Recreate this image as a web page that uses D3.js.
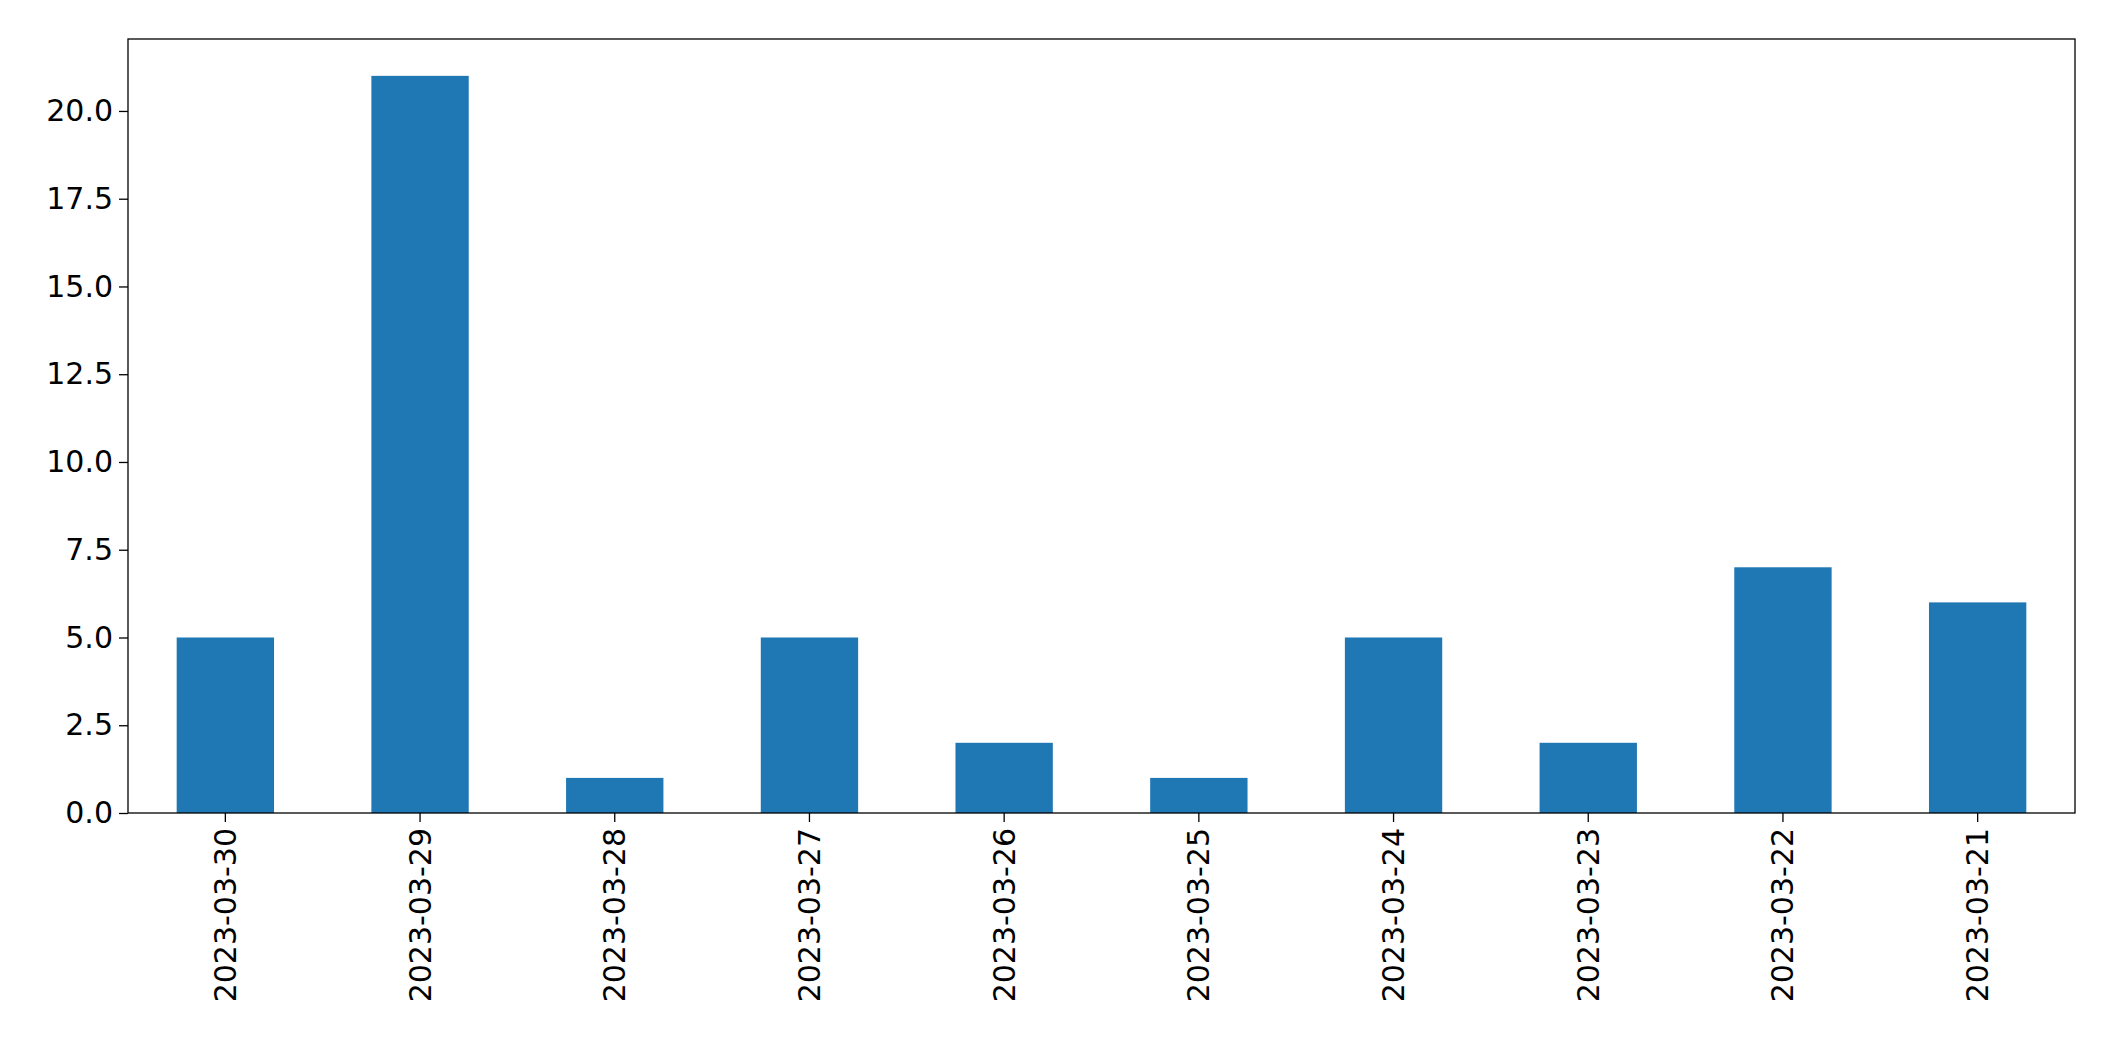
<html>
<head>
<style>
  body { margin: 0; background: #fff; }
  text { font-family: "DejaVu Sans", sans-serif; fill: #000; }
</style>
</head>
<body>
<script src="https://d3js.org/d3.v7.min.js"></script>
<script>
// chart values
var dates = ["2023-03-30","2023-03-29","2023-03-28","2023-03-27","2023-03-26",
             "2023-03-25","2023-03-24","2023-03-23","2023-03-22","2023-03-21"];
var counts = [5, 21, 1, 5, 2, 1, 5, 2, 7, 6];
var yTicks = [0, 2.5, 5, 7.5, 10, 12.5, 15, 17.5, 20];

var W = 2104, H = 1061;
var margin = {top: 39, right: 29, bottom: 248, left: 128};
var width = W - margin.left - margin.right;
var height = H - margin.top - margin.bottom;

var svg = d3.select("body").append("svg").attr("width", W).attr("height", H);
var g = svg.append("g").attr("transform", "translate(" + margin.left + "," + margin.top + ")");

var x = d3.scaleBand().domain(dates).range([0, width]).paddingInner(0.5).paddingOuter(0.25);
var y = d3.scaleLinear().domain([0, 22.05]).range([height, 0]);

g.selectAll("rect.bar").data(counts).enter().append("rect")
  .attr("class", "bar")
  .attr("x", function(d, i){ return x(dates[i]); })
  .attr("y", function(d){ return y(d); })
  .attr("width", x.bandwidth())
  .attr("height", function(d){ return height - y(d); })
  .attr("fill", "#1f77b4");

// axes
var yAxis = g.append("g").call(d3.axisLeft(y).tickValues(yTicks).tickFormat(d3.format(".1f")).tickSize(9).tickPadding(6));
var xAxis = g.append("g").attr("transform", "translate(0," + height + ")")
  .call(d3.axisBottom(x).tickSize(9).tickPadding(6));
xAxis.selectAll("text")
  .attr("transform", "rotate(-90)")
  .attr("text-anchor", "end")
  .attr("dy", "0.35em")
  .attr("x", -15).attr("y", 0);

[yAxis, xAxis].forEach(function(a){
  a.selectAll("text").style("font-size", "30px").style("font-family", "DejaVu Sans");
  a.select(".domain").remove();
  a.selectAll("line").attr("stroke", "#000").attr("stroke-width", 1.3);
});

// frame
g.append("rect").attr("width", width).attr("height", height)
  .attr("fill", "none").attr("stroke", "#000").attr("stroke-width", 1.3);
</script>
</body>
</html>
